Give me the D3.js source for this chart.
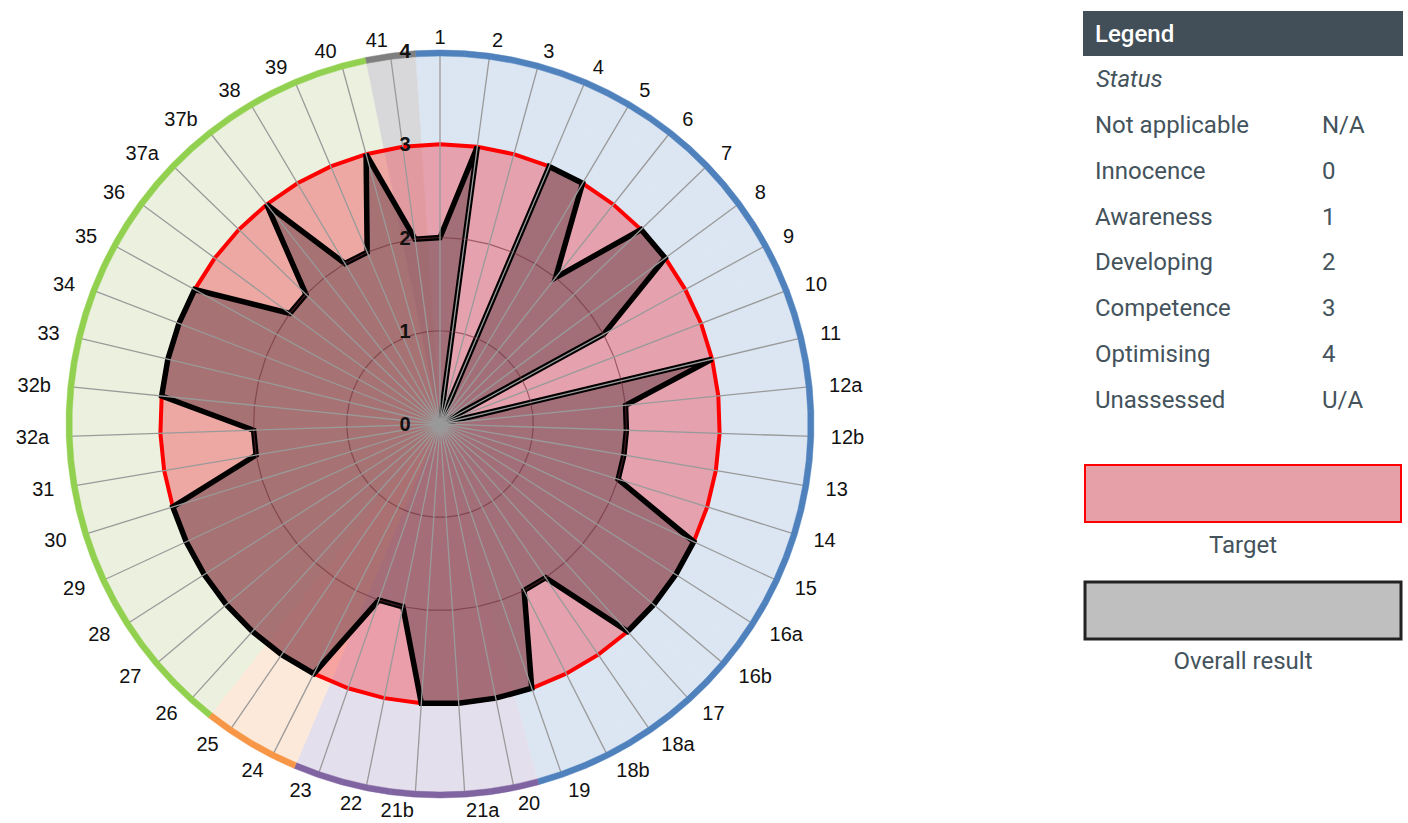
<!DOCTYPE html>
<html>
<head>
<meta charset="utf-8">
<script src="https://cdn.jsdelivr.net/npm/d3@7"></script>
<style>
body{margin:0;background:#fff;}
svg{display:block;}
</style>
</head>
<body>
<div id="chart"></div>
<script>
// categories clockwise from the top
var categories=["1","2","3","4","5","6","7","8","9","10","11","12a","12b","13","14","15","16a","16b","17","18a","18b","19",
	"20","21a","21b","22","23","24","25","26","27","28","29","30","31","32a","32b","33","34","35","36","37a","37b","38","39","40","41"];
// section of each category (colours the background wedge and the outer ring)
var sections=["A","A","A","A","A","A","A","A","A","A","A","A","A","A","A","A","A","A","A","A","A","A",
	"B","B","B","B","B","C","C","D","D","D","D","D","D","D","D","D","D","D","D","D","D","D","D","D","E"];
var target=[3,3,3,3,3,3,3,3,3,3,3,3,3,3,3,3,3,3,3,3,3,3,3,3,3,3,3,3,3,3,3,3,3,3,3,3,3,3,3,3,3,3,3,3,3,3,3];
var overall=[2,3,0,3,3,2,3,3,2,0,3,2,2,2,2,3,3,3,3,2,2,3,3,3,3,2,2,3,3,3,3,3,3,3,2,2,3,3,3,3,2,2,3,2,2,3,2];
var ticks=[0,1,2,3,4];
var statusNames=["Not applicable","Innocence","Awareness","Developing","Competence","Optimising","Unassessed"];
var statusCodes=["N/A","0","1","2","3","4","U/A"];

//全域設定
width=1408;
height=823;
cx=440;
cy=424;
n=categories.length;
step=2*Math.PI/n;
ringColor={A:"#4f81bd",B:"#8064a2",C:"#f79646",D:"#92d050",E:"#7f7f7f"};
wedgeColor={A:"#dce6f2",B:"#e4dfec",C:"#fde9d9",D:"#ebf1de",E:"#d8d8da"};
textColor="#44535c";

var svg=d3.select("#chart").append("svg").attr("width",width).attr("height",height);

var r=d3.scaleLinear().domain([0,4]).range([0,373]);
var angle=d3.scaleLinear().domain([0,n]).range([0,2*Math.PI]);

var g=svg.append("g").attr("transform","translate("+cx+","+cy+")");

// background wedges
var wedge=d3.arc().innerRadius(0).outerRadius(r(4)-2)
	.startAngle(function(d,i){return angle(i)-step/2;})
	.endAngle(function(d,i){return angle(i)+step/2;});
g.append("g").selectAll("path").data(categories).enter().append("path")
	.attr("d",wedge)
	.attr("fill",function(d,i){return wedgeColor[sections[i]];})
	.attr("stroke",function(d,i){return wedgeColor[sections[i]];})
	.attr("stroke-width",0.6);

var radar=d3.lineRadial()
	.angle(function(d,i){return angle(i);})
	.radius(function(d){return r(d);})
	.curve(d3.curveLinearClosed);

// target
g.append("path").attr("d",radar(target))
	.attr("fill","rgba(240,80,90,0.45)")
	.attr("stroke","#ff0000").attr("stroke-width",4);

// overall result
g.append("path").attr("d",radar(overall))
	.attr("fill","rgba(95,60,68,0.5)")
	.attr("stroke","#000").attr("stroke-width",5.5)
	.attr("stroke-linejoin","miter").attr("stroke-miterlimit",3);

// grid rings 1 and 2
g.append("g").selectAll("path").data([1,2]).enter().append("path")
	.attr("d",function(v){return radar(categories.map(function(){return v;}));})
	.attr("fill","none")
	.attr("stroke","rgba(110,45,55,0.6)").attr("stroke-width",1.2);

// spokes
g.append("g").selectAll("line").data(categories).enter().append("line")
	.attr("x1",0).attr("y1",0)
	.attr("x2",function(d,i){return r(4)*Math.sin(angle(i));})
	.attr("y2",function(d,i){return -r(4)*Math.cos(angle(i));})
	.attr("stroke","#9a9a9a").attr("stroke-width",1.3);

// outer ring
var ring=d3.arc().innerRadius(r(4)-5).outerRadius(r(4)+1)
	.startAngle(function(d,i){return angle(i)-step/2;})
	.endAngle(function(d,i){return angle(i)+step/2;});
g.append("g").selectAll("path").data(categories).enter().append("path")
	.attr("d",ring)
	.attr("fill",function(d,i){return ringColor[sections[i]];})
	.attr("stroke",function(d,i){return ringColor[sections[i]];})
	.attr("stroke-width",0.5);

// tick labels
g.append("g").selectAll("text").data(ticks).enter().append("text")
	.text(function(d){return d;})
	.attr("x",-35)
	.attr("y",function(d){return -r(d)+7;})
	.attr("text-anchor","middle")
	.attr("font-family","Liberation Sans, Arial, sans-serif")
	.attr("font-weight","bold").attr("font-size",20).attr("fill","#111");

// category labels: box corner sits on an ellipse round the chart
g.append("g").selectAll("text").data(categories).enter().append("text")
	.text(function(d){return d;})
	.attr("text-anchor","middle")
	.attr("font-family","Liberation Sans, Arial, sans-serif")
	.attr("font-size",20).attr("fill","#111")
	.each(function(d,i){
		var w=this.getComputedTextLength();
		var s=Math.sin(angle(i)),c=Math.cos(angle(i));
		var ox=Math.abs(s)>0.01?Math.sign(s)*w/2:0;
		var oy=Math.sign(c)*7*Math.min(1,1.5*Math.abs(c));
		d3.select(this).attr("x",391*s+ox).attr("y",-380*c-oy+7);
	});

// legend
var lg=svg.append("g").attr("font-family","Roboto, sans-serif").attr("fill",textColor);
lg.append("rect").attr("x",1083).attr("y",11).attr("width",320).attr("height",45).attr("fill","#424f58");
lg.append("text").text("Legend").attr("x",1095).attr("y",42).attr("font-size",24).attr("font-weight",500).attr("fill","#fff");
lg.append("text").text("Status").attr("x",1096).attr("y",87).attr("font-size",24).attr("font-style","italic");

var rows=lg.append("g").selectAll("g").data(statusNames).enter().append("g")
	.attr("transform",function(d,i){return "translate(0,"+(125+i*45.8+8)+")";});
rows.append("text").text(function(d){return d;}).attr("x",1095).attr("font-size",24);
rows.append("text").text(function(d,i){return statusCodes[i];}).attr("x",1322).attr("font-size",24);

lg.append("rect").attr("x",1085).attr("y",465).attr("width",316).attr("height",57)
	.attr("fill","#e5a0a8").attr("stroke","#ff0000").attr("stroke-width",2);
lg.append("text").text("Target").attr("x",1243).attr("y",553).attr("text-anchor","middle").attr("font-size",24);
lg.append("rect").attr("x",1085).attr("y",582).attr("width",316).attr("height",57)
	.attr("fill","#bfbfbf").attr("stroke","#222").attr("stroke-width",3);
lg.append("text").text("Overall result").attr("x",1243).attr("y",669).attr("text-anchor","middle").attr("font-size",24);
</script>
</body>
</html>
